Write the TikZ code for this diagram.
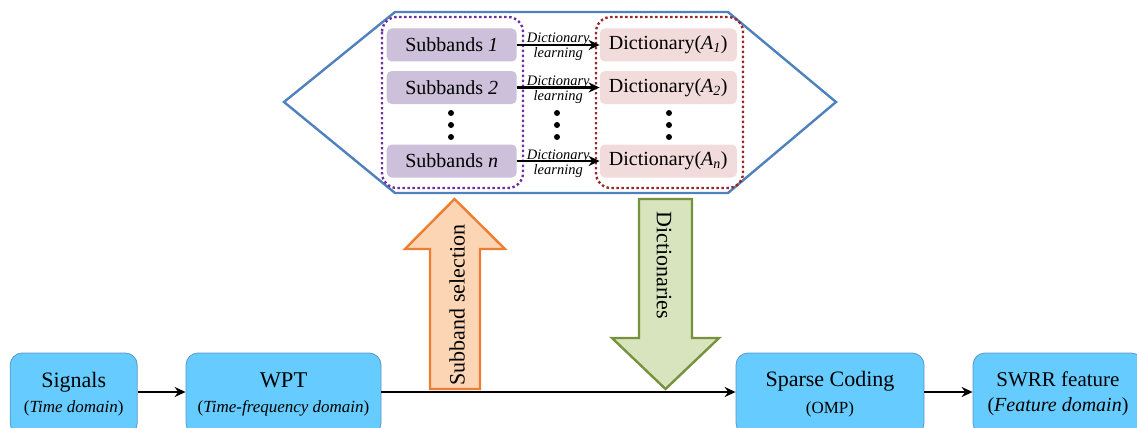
\documentclass[tikz,border=0pt]{standalone}
\usepackage{fontspec}
\setmainfont{Liberation Serif}
\usetikzlibrary{arrows.meta}
\definecolor{boxblue}{RGB}{102,204,255}
\definecolor{boxedge}{RGB}{90,150,200}
\definecolor{hexblue}{RGB}{79,129,189}
\definecolor{lav}{RGB}{204,192,218}
\definecolor{pinkbox}{RGB}{242,220,219}
\definecolor{purpdot}{RGB}{112,48,160}
\definecolor{reddot}{RGB}{150,40,40}
\definecolor{orfill}{RGB}{252,213,181}
\definecolor{oredge}{RGB}{237,125,49}
\definecolor{grfill}{RGB}{215,228,189}
\definecolor{gredge}{RGB}{118,146,60}
\tikzset{
  mainbox/.style={draw=boxedge, line width=0.8pt, fill=boxblue, rounded corners=12pt, align=center, inner sep=0pt, minimum height=82pt, font=\fontsize{17}{25}\selectfont},
  subbox/.style={fill=lav, rounded corners=5pt, minimum width=130pt, minimum height=33pt, inner sep=0pt, font=\fontsize{20}{22}\selectfont},
  dictbox/.style={fill=pinkbox, rounded corners=5pt, minimum width=137pt, minimum height=33pt, inner sep=0pt, font=\fontsize{20}{22}\selectfont},
  conn/.style={-{Stealth[length=11pt,width=10pt]}, line width=2.4pt},
  learn/.style={font=\fontsize{14.5}{15}\selectfont\itshape, inner sep=0pt},
  dot/.style={circle, fill=black, inner sep=0pt, minimum size=6pt},
  groupline/.style={line width=2.4pt, dash pattern=on 2.4pt off 2.6pt, rounded corners=15pt},
  bigtext/.style={font=\fontsize{22}{24}\selectfont},
}
\begin{document}
\begin{tikzpicture}[x=1pt,y=-1pt]
\useasboundingbox (0,0) rectangle (1137,428);
\clip (0,0) rectangle (1137,428);
% hexagon
\draw[hexblue, line width=2.4pt] (284,102) -- (395,12) -- (728,12) -- (836,102) -- (728,193) -- (395,193) -- cycle;
% dotted groups
\draw[purpdot, groupline] (382,17) rectangle (523,188);
\draw[reddot, groupline] (596,17) rectangle (743,188);
% subband boxes
\node[subbox] (s1) at (451.7,45) {Subbands \textit{1}};
\node[subbox] (s2) at (451.7,87.5) {Subbands \textit{2}};
\node[subbox] (sn) at (451.7,161) {Subbands \textit{n}};
\node[dictbox] (d1) at (668.3,45) {Dictionary(\textit{A}\textsubscript{\textit{1}})};
\node[dictbox] (d2) at (668.3,87.5) {Dictionary(\textit{A}\textsubscript{\textit{2}})};
\node[dictbox] (dn) at (668.3,161) {Dictionary(\textit{A}\textsubscript{\textit{n}})};
\foreach \a/\b in {s1/d1,s2/d2,sn/dn}{
  \draw[conn] (\a.east) -- (\b.west);
  \path (\a.east) -- (\b.west) node[midway, learn, anchor=base, yshift=2pt] {Dictionary}
                                 node[midway, learn, anchor=base, yshift=-13pt] {learning};
}
\foreach \x in {451,557,669}{
  \node[dot] at (\x,113) {};
  \node[dot] at (\x,125) {};
  \node[dot] at (\x,137) {};
}
% big arrows
\draw[oredge, fill=orfill, line width=2.4pt] (430,389) -- (430,249) -- (405,249) -- (454.5,199) -- (505,249) -- (480,249) -- (480,389) -- cycle;
\node[rotate=90, bigtext] (subsel) at (457,305) {Subband selection};
\draw[gredge, fill=grfill, line width=2.4pt] (639,199) -- (692,199) -- (692,338) -- (719,338) -- (665.5,389) -- (612,338) -- (639,338) -- cycle;
\node[rotate=-90, bigtext] (dicts) at (664,265) {Dictionaries};
% bottom boxes
\node[mainbox, minimum width=127pt] (sig) at (73.7,394) {{\fontsize{22}{25}\selectfont Signals}\\(\textit{Time domain})};
\node[mainbox, minimum width=195pt] (wpt) at (283.5,394) {{\fontsize{22.5}{25}\selectfont WPT}\\(\textit{Time-frequency domain})};
\node[mainbox, minimum width=188pt, font=\fontsize{17}{27}\selectfont] (sc) at (830,394) {{\fontsize{22}{27}\selectfont Sparse Coding}\\(OMP)};
\node[mainbox, minimum width=170pt] (swrr) at (1058,394) {{\fontsize{21}{25}\selectfont SWRR feature}\\{\fontsize{20}{25}\selectfont(\textit{Feature domain})}};
\draw[conn] (sig.east |- 0,392) -- (wpt.west |- 0,392);
\draw[conn] (wpt.east |- 0,392) -- (sc.west |- 0,392);
\draw[conn] (sc.east |- 0,392) -- (swrr.west |- 0,392);
\end{tikzpicture}
\end{document}
